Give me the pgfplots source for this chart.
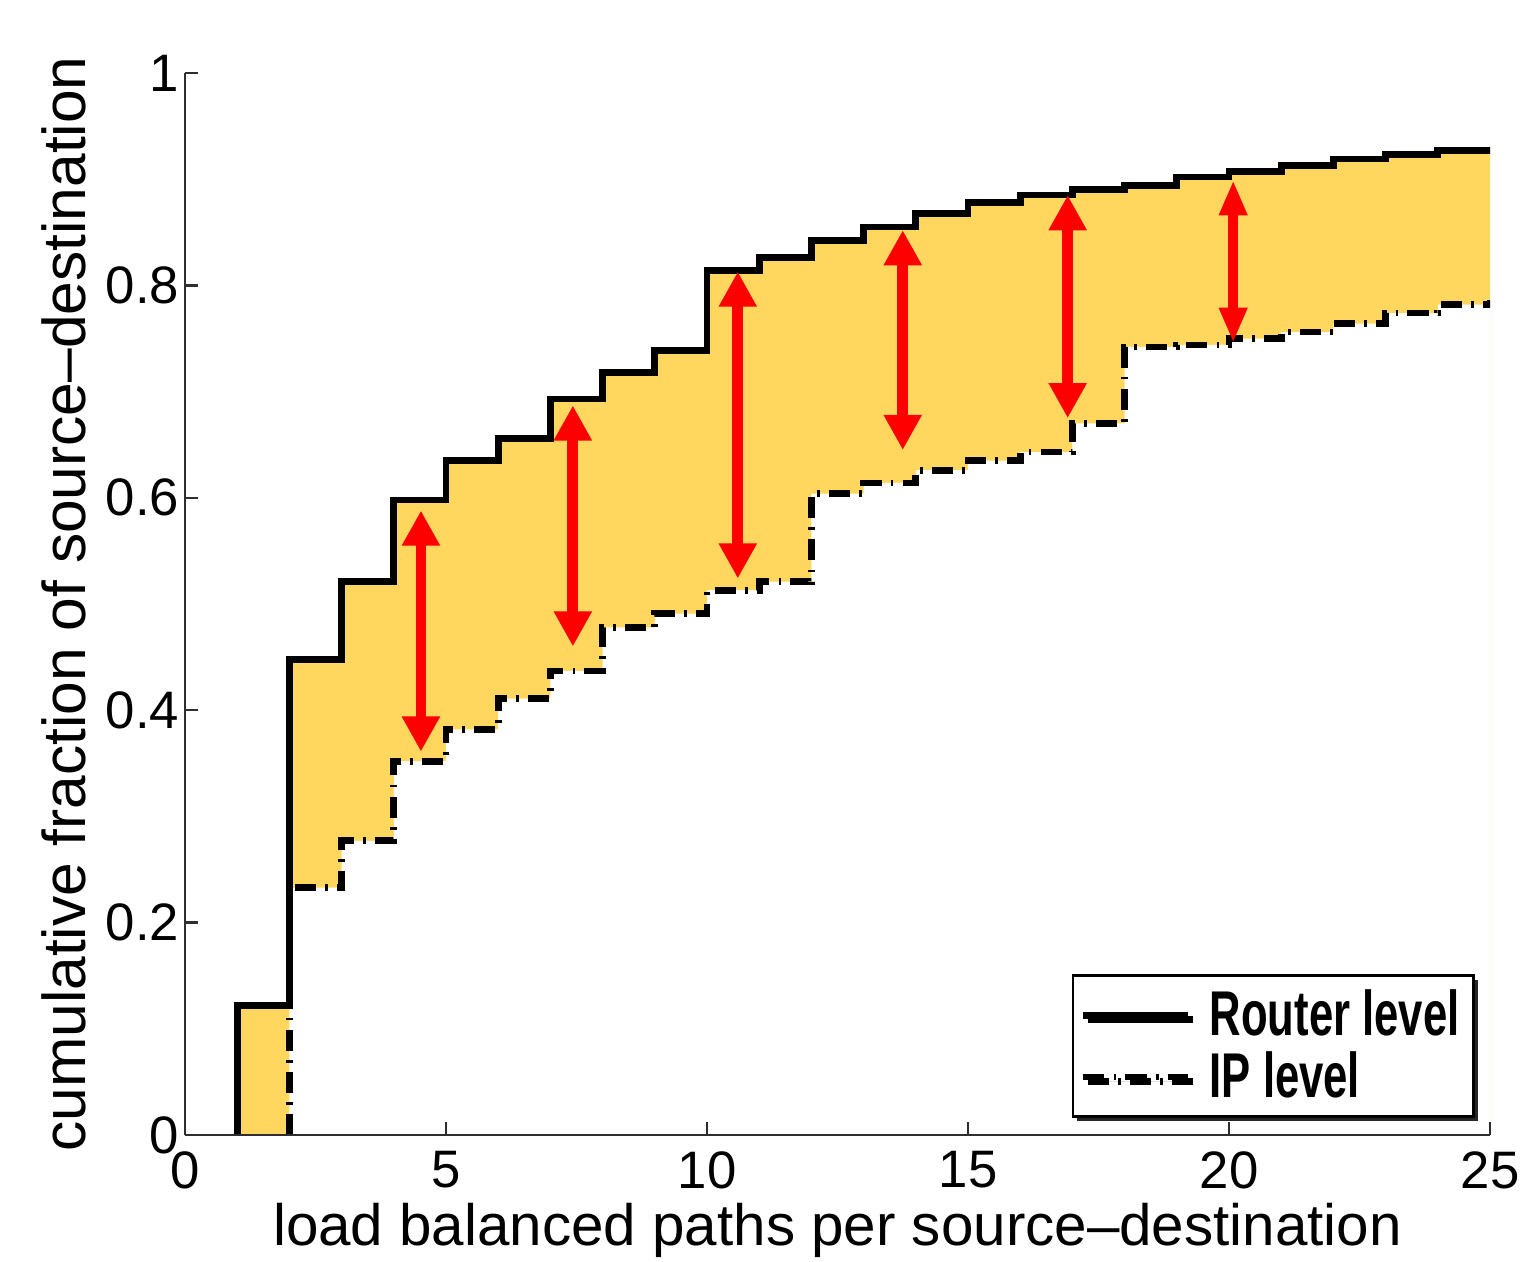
\documentclass[border=0pt]{standalone}
\usepackage{fontspec}
\setmainfont{Liberation Sans}
\usepackage{graphicx}
\usepackage{pgfplots}
\pgfplotsset{compat=1.18}
\usepackage{pgfplotstable}
\usetikzlibrary{arrows.meta,shadows}
\definecolor{fillyel}{HTML}{FFD65E}
\definecolor{axgray}{HTML}{2E2E2E}

% router level CDF (step values, left edge of each step)
\pgfplotstableread{
x y
1 0
1 0.122
2 0.448
3 0.521
4 0.598
5 0.635
6 0.656
7 0.693
8 0.718
9 0.739
10 0.814
11 0.826
12 0.842
13 0.855
14 0.868
15 0.878
16 0.885
17 0.890
18 0.894
19 0.902
20 0.907
21 0.913
22 0.919
23 0.923
24 0.927
25 0.930
}\router

% IP level CDF
\pgfplotstableread{
x y
2 0
2 0.233
3 0.277
4 0.352
5 0.382
6 0.411
7 0.437
8 0.478
9 0.491
10 0.513
11 0.521
12 0.604
13 0.614
14 0.626
15 0.635
16 0.643
17 0.670
18 0.742
19 0.744
20 0.750
21 0.756
22 0.764
23 0.774
24 0.782
25 0.786
}\iplevel

\begin{document}
\begin{tikzpicture}
\begin{axis}[
  at={(0,0)},anchor=south west,
  width=13.05cm,height=10.62cm,scale only axis,
  axis on top,
  xmin=0,xmax=25,ymin=0,ymax=1,
  axis lines=left,
  axis line style={-,axgray,line width=0.7pt},
  tick style={axgray,line width=0.7pt},
  tick align=inside,major tick length=0.13cm,
  xtick={0,5,10,15,20,25},
  xticklabels={0,5,10,15,20,25},
  ytick={0,0.2,0.4,0.6,0.8,1},
  yticklabels={0,0.2,0.4,0.6,0.8,1},
  /pgf/number format/assume math mode=true,
  tick label style={font=\fontsize{15}{17}\selectfont},
  x tick label style={yshift=-0.04cm},
  y tick label style={inner xsep=1.5pt},
  xlabel={load balanced paths per source\textendash destination},
  ylabel={cumulative fraction of source\textendash destination},
  xlabel style={font=\fontsize{16.6}{19}\selectfont,
    at={(axis description cs:0.5,-0.1036)},anchor=base},
  ylabel style={font=\fontsize{17.2}{19}\selectfont,
    at={(axis description cs:-0.0766,0.5)},anchor=base,rotate=0},
  legend style={at={(axis description cs:0.9885,0.016)},anchor=south east,
    draw=black,line width=0.8pt,fill=white,
    general shadow={shadow xshift=1.2pt,shadow yshift=-1.2pt,fill=black!85},
    font=\bfseries\fontsize{18}{19}\selectfont,
    inner xsep=2pt,inner ysep=2pt,row sep=-1pt},
  legend cell align=left,
  legend image code/.code={\draw[#1] (0cm,0cm) -- (1.05cm,0cm);},
]
% yellow band: area under router curve, then the area under IP curve in white
\addplot[const plot,fill=fillyel,draw=none,forget plot] table[x=x,y=y] {\router} \closedcycle;
\addplot[const plot,fill=white,draw=none,forget plot] table[x=x,y=y] {\iplevel} \closedcycle;

\addplot[const plot,black,line width=1.9pt,line join=miter] table[x=x,y=y] {\router};
\addlegendentry{\hspace{0.11cm}\scalebox{0.69}[1]{Router level}}
\addplot[const plot,black,line width=1.9pt,
  dash pattern=on 6pt off 2.6pt on 0.8pt off 2.6pt] table[x=x,y=y] {\iplevel};
\addlegendentry{\hspace{0.11cm}\scalebox{0.69}[1]{IP level}}

\tikzset{gap/.style={red,line width=3.1pt,
  {Triangle[width=10.2pt,length=10pt]}-{Triangle[width=10.2pt,length=10pt]}}}
\draw[gap] (axis cs:4.52,0.361) -- (axis cs:4.52,0.588);
\draw[gap] (axis cs:7.43,0.460) -- (axis cs:7.43,0.687);
\draw[gap] (axis cs:10.59,0.524) -- (axis cs:10.59,0.813);
\draw[gap] (axis cs:13.75,0.645) -- (axis cs:13.75,0.852);
\draw[gap] (axis cs:16.91,0.675) -- (axis cs:16.91,0.885);
\draw[red,line width=2.7pt,{Triangle[width=7.5pt,length=10pt]}-{Triangle[width=7.5pt,length=10pt]}]
  (axis cs:20.08,0.746) -- (axis cs:20.08,0.899);
\end{axis}
\pgfresetboundingbox
\path[use as bounding box] (-1.85,-1.26) rectangle (13.54,11.35);
\end{tikzpicture}
\end{document}
